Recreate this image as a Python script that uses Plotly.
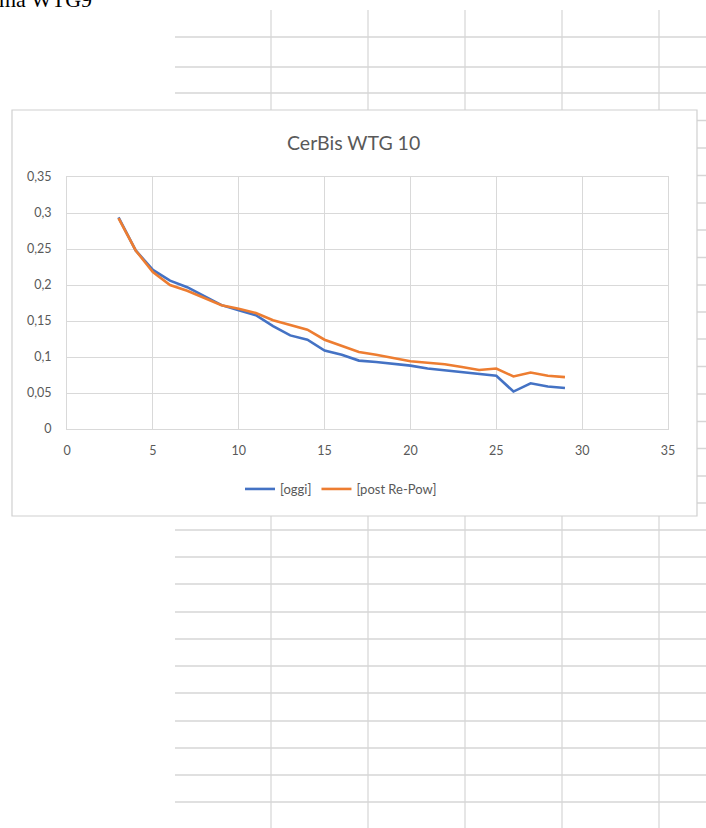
import plotly.graph_objects as go

# ---- data ----
wind_speed = list(range(3, 30))
oggi = [0.294, 0.248, 0.221, 0.206, 0.197, 0.184, 0.172, 0.165, 0.158, 0.143,
        0.130, 0.124, 0.109, 0.103, 0.095, 0.093, 0.091, 0.088, 0.084, 0.0815,
        0.079, 0.0765, 0.074, 0.052, 0.0635, 0.059, 0.057]
post_repow = [0.293, 0.248, 0.218, 0.200, 0.192, 0.182, 0.172, 0.167, 0.161, 0.151,
              0.144, 0.138, 0.124, 0.116, 0.107, 0.103, 0.099, 0.094, 0.092, 0.090,
              0.086, 0.082, 0.084, 0.073, 0.0785, 0.074, 0.072]
series_names = ["[oggi]", "[post Re-Pow]"]
y_tickvals = [0, 0.05, 0.1, 0.15, 0.2, 0.25, 0.3, 0.35]
y_ticktext = ["0", "0,05", "0,1", "0,15", "0,2", "0,25", "0,3", "0,35"]
x_tickvals = [0, 5, 10, 15, 20, 25, 30, 35]
title_text = "CerBis WTG 10"

# ---- layout geometry (pixels) ----
W, H = 706, 828
ML, MR, MT, MB = 67, 38, 177, 399
PW, PH = W - ML - MR, H - MT - MB


def px(x):
    return (x - ML) / PW


def py(y):
    return (H - MB - y) / PH


GRAY_TXT = "#595959"
SHEET = "#d6d6d6"

shapes = []
# spreadsheet background grid
h_rows = [37, 67, 93, 120.5, 148, 175.5, 203, 230, 257.5, 285, 312, 339, 366.5,
          394, 421.5, 448.5, 476, 503, 530, 557, 584, 612, 639, 666, 693, 721,
          748, 775, 802]
for r in h_rows:
    shapes.append(dict(type="line", xref="paper", yref="paper", layer="below",
                       x0=px(175), x1=px(706), y0=py(r), y1=py(r),
                       line=dict(color=SHEET, width=1.6)))
for c in [271, 368, 465, 562, 659]:
    shapes.append(dict(type="line", xref="paper", yref="paper", layer="below",
                       x0=px(c), x1=px(c), y0=py(10), y1=py(828),
                       line=dict(color=SHEET, width=1.2)))
# chart box
shapes.append(dict(type="rect", xref="paper", yref="paper", layer="below",
                   x0=px(12), x1=px(697), y0=py(110), y1=py(516),
                   fillcolor="white", line=dict(color="#d0d0d0", width=1.2)))

fig = go.Figure()
fig.add_trace(go.Scatter(x=wind_speed, y=oggi, mode="lines", name=series_names[0],
                         line=dict(color="#4472C4", width=2.6)))
fig.add_trace(go.Scatter(x=wind_speed, y=post_repow, mode="lines", name=series_names[1],
                         line=dict(color="#ED7D31", width=2.6)))

axis_common = dict(showgrid=True, gridcolor="#d9d9d9", gridwidth=1, zeroline=False,
                   showline=True, linecolor="#d9d9d9", linewidth=1, mirror=True,
                   ticks="", tickfont=dict(family="Lato", size=12.5, color=GRAY_TXT))

fig.update_layout(
    width=W, height=H,
    margin=dict(l=ML, r=MR, t=MT, b=MB, pad=0),
    paper_bgcolor="white", plot_bgcolor="rgba(0,0,0,0)",
    showlegend=True,
    legend=dict(orientation="h", x=px(341), xanchor="center", y=py(489), yanchor="middle",
                font=dict(family="Lato", size=13, color=GRAY_TXT),
                bgcolor="rgba(0,0,0,0)", itemwidth=30, tracegroupgap=0),
    xaxis=dict(range=[0, 35], tickvals=x_tickvals, ticklabelstandoff=10, **axis_common),
    yaxis=dict(range=[0, 0.35], tickvals=y_tickvals, ticktext=y_ticktext,
               ticklabelstandoff=12, **axis_common),
    shapes=shapes,
    annotations=[
        dict(text=title_text, xref="paper", yref="paper", x=px(353), y=py(142),
             xanchor="center", yanchor="middle", showarrow=False,
             font=dict(family="Lato", size=19.5, color=GRAY_TXT)),
        dict(text="ma WTG9", xref="paper", yref="paper", x=px(-3), y=py(14),
             xanchor="left", yanchor="bottom", showarrow=False,
             font=dict(family="Liberation Serif", size=22, color="black")),
    ],
)

fig.write_html("out.html",
               config={"displayModeBar": False},
               post_script="document.body.style.margin='0';document.body.style.overflow='hidden';")
